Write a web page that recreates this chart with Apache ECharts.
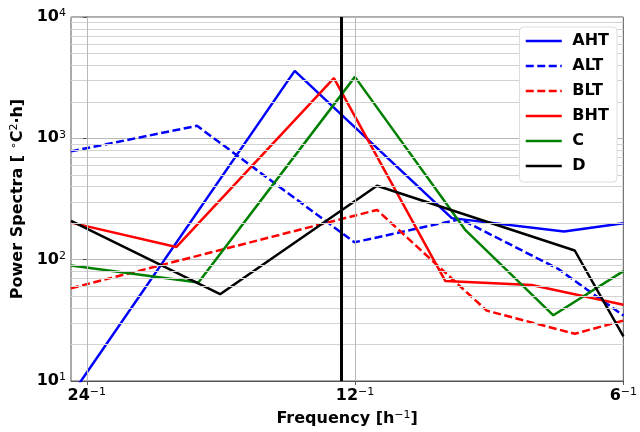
<!DOCTYPE html>
<html>
<head>
<meta charset="utf-8">
<script src="https://cdn.jsdelivr.net/npm/echarts@6/dist/echarts.min.js"></script>
<style>
  html, body { margin: 0; padding: 0; background: #fff; }
  #chart { width: 640px; height: 432px; }
</style>
</head>
<body>
<div id="chart"></div>
<script>
  // frequencies in h^-1, power in degC^2 h
  var freqAHT = [0.0400, 0.0713, 0.1070, 0.1430, 0.1667];
  var powAHT  = [7.6, 3600, 220, 171, 200];
  var freqALT = [0.0400, 0.0554, 0.0832, 0.1094, 0.1408, 0.1667];
  var powALT  = [781, 1268, 139, 216, 84, 34.6];
  var freqBLT = [0.0400, 0.0882, 0.1171, 0.1470, 0.1667];
  var powBLT  = [58.2, 257, 38.0, 24.5, 31.5];
  var freqBHT = [0.0400, 0.0525, 0.0789, 0.1052, 0.1315, 0.1667];
  var powBHT  = [202, 127, 3130, 66.8, 61.8, 42.5];
  var freqC   = [0.0400, 0.0556, 0.0833, 0.1107, 0.1391, 0.1667];
  var powC    = [89.7, 64.7, 3210, 177, 34.8, 80.4];
  var freqD   = [0.0400, 0.0588, 0.0882, 0.1470, 0.1667];
  var powD    = [209, 51.9, 407, 119, 23.3];

  var tickPeriods = [24, 12, 6];      // x tick labels, as period^-1
  var m2Period = 12.42;               // vertical line
  var yMinor = [20, 30, 40, 50, 60, 70, 80, 90, 200, 300, 400, 500, 600, 700, 800, 900,
                2000, 3000, 4000, 5000, 6000, 7000, 8000, 9000];

  // x axis is log2(24 * f): 24^-1 -> 0, 12^-1 -> 1, 6^-1 -> 2
  function fx(f) { return Math.log2(24 * f); }

  var font = 'DejaVu Sans';
  var rich = {
    b: { fontSize: 16, fontWeight: 'bold', fontFamily: font, color: '#000', lineHeight: 18 },
    s: { fontSize: 11, fontFamily: font, color: '#000', verticalAlign: 'top', lineHeight: 10 }
  };

  function mk(name, freq, pow, color, dashed) {
    return {
      name: name,
      type: 'line',
      symbol: 'none',
      z: 3,
      data: freq.map(function (f, i) { return [fx(f), pow[i]]; }),
      lineStyle: { color: color, width: 2.5, type: dashed ? [8, 3.5] : 'solid' },
      itemStyle: { color: color }
    };
  }

  var myChart = echarts.init(document.getElementById('chart'));
  var option = {
    animation: false,
    backgroundColor: '#fff',
    grid: { left: 71, right: 14, top: 17, bottom: 48, show: true, borderColor: '#555', borderWidth: 1 },
    legend: {
      orient: 'vertical',
      right: 23,
      top: 27,
      z: 20,
      itemWidth: 36,
      itemHeight: 14,
      itemGap: 9,
      padding: [6, 8, 8, 5],
      backgroundColor: '#fff',
      borderColor: '#ddd',
      borderWidth: 1,
      borderRadius: 4,
      itemStyle: { opacity: 0 },
      lineStyle: { width: 2.5 },
      formatter: function (name) { return ' ' + name; },
      textStyle: { fontSize: 16, fontWeight: 'bold', fontFamily: font, color: '#000' },
      data: ['AHT', 'ALT', 'BLT', 'BHT', 'C', 'D']
    },
    xAxis: {
      type: 'value',
      min: fx(1 / 25),
      max: 2,
      name: '{b|Frequency [h}{s|−1}{b|]}',
      nameLocation: 'middle',
      nameGap: 29,
      nameTextStyle: { rich: rich },
      axisLine: { show: true, lineStyle: { color: '#555' } },
      axisTick: { show: true, length: 4, customValues: [0, 1, 2], lineStyle: { color: '#555' } },
      axisLabel: {
        customValues: [0, 1, 2],
        margin: 6,
        formatter: function (v) {
          var p = Math.round(24 / Math.pow(2, v));
          return '{b|' + p + '}{s|−1}';
        },
        rich: rich
      },
      splitLine: { show: false }
    },
    yAxis: {
      type: 'log',
      logBase: 10,
      min: 10,
      max: 10000,
      name: '{b|Power Spectra [ }{s|∘}{b|C}{s|2}{b|·h]}',
      nameLocation: 'middle',
      nameGap: 42,
      nameTextStyle: { rich: rich },
      axisLine: { show: true, lineStyle: { color: '#555' } },
      axisTick: { show: true, length: 4, lineStyle: { color: '#555' } },
      axisLabel: {
        margin: 5,
        formatter: function (v) {
          return '{b|10}{s|' + Math.round(Math.log10(v)) + '}';
        },
        rich: rich
      },
      splitLine: { show: true, lineStyle: { color: '#b8b8b8', width: 1 } }
    },
    series: [
      {
        name: 'grid',
        type: 'line',
        data: [],
        z: 1,
        silent: true,
        markLine: {
          silent: true,
          symbol: 'none',
          label: { show: false },
          animation: false,
          data: yMinor.map(function (v) {
            return { yAxis: v, lineStyle: { color: '#d3d3d3', width: 1, type: 'solid' } };
          }).concat(tickPeriods.slice(0, 2).map(function (p) {
            return { xAxis: fx(1 / p), lineStyle: { color: '#b8b8b8', width: 1, type: 'solid' } };
          }))
        }
      },
      mk('AHT', freqAHT, powAHT, '#0000ff', false),
      mk('ALT', freqALT, powALT, '#0000ff', true),
      mk('BLT', freqBLT, powBLT, '#ff0000', true),
      mk('BHT', freqBHT, powBHT, '#ff0000', false),
      mk('C', freqC, powC, '#008000', false),
      mk('D', freqD, powD, '#000000', false),
      {
        name: 'M2',
        type: 'line',
        data: [],
        z: 5,
        silent: true,
        markLine: {
          silent: true,
          symbol: 'none',
          label: { show: false },
          animation: false,
          data: [{ xAxis: fx(1 / m2Period), lineStyle: { color: '#000', width: 3, type: 'solid' } }]
        }
      }
    ]
  };
  myChart.setOption(option);
</script>
</body>
</html>
